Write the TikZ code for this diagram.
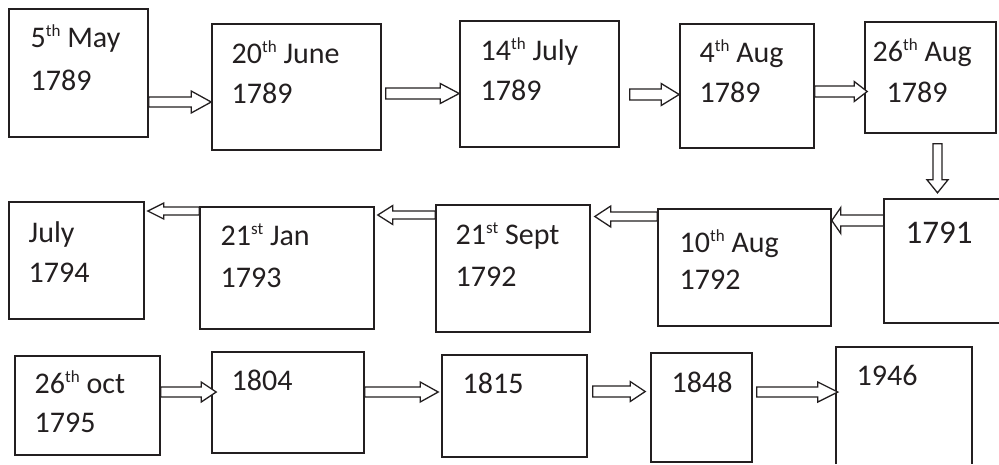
\documentclass[tikz,border=0pt]{standalone}
\usepackage{fontspec}
\setmainfont{Carlito}
\usetikzlibrary{calc}
\definecolor{ink}{HTML}{231F20}

% ordinal suffix (th, st) set small and raised
\newcommand\ord[1]{\raisebox{11pt}{\fontsize{17}{17}\selectfont #1}}

% hollow block arrow from coordinate #1 (tail) to #2 (tip);
% #3 shaft half width, #4 head half width, #5 head length (all in pt)
\newcommand\blockarrow[5]{%
  \path ($(#2)!#5pt!(#1)$) coordinate (hb);
  \draw[barrow] ($(#1)!#3pt!90:(#2)$) -- ($(hb)!#3pt!90:(#2)$)
    -- ($(hb)!#4pt!90:(#2)$) -- (#2) -- ($(hb)!#4pt!-90:(#2)$)
    -- ($(hb)!#3pt!-90:(#2)$) -- ($(#1)!#3pt!-90:(#2)$) -- cycle;}

\begin{document}
\begin{tikzpicture}[x=1pt,y=-1pt,
  box/.style={draw=ink, line width=1.6pt, rectangle, inner sep=0pt},
  openbox/.style={rectangle, inner sep=0pt},
  side/.style={draw=ink, line width=1.6pt},
  lbl/.style={anchor=base west, inner sep=0pt, text=ink,
              font=\fontsize{30}{36}\selectfont},
  biglbl/.style={lbl, font=\fontsize{33}{40}\selectfont},
  barrow/.style={draw=ink, fill=white, line width=1.3pt, line join=miter}]

\useasboundingbox (0,0) rectangle (999,464);

% ---- first row ----
\node[box, minimum width=139pt, minimum height=128pt] (A) at (78.5,73) {};
\node[box, minimum width=169pt, minimum height=126pt] (B) at (296.5,87) {};
\node[box, minimum width=159pt, minimum height=126pt] (C) at (539.5,84) {};
\node[box, minimum width=134pt, minimum height=124pt] (D) at (747,86) {};
\node[box, minimum width=131pt, minimum height=111pt] (E) at (930.5,77.5) {};

% ---- second row ----
\node[openbox, minimum width=115pt, minimum height=124pt] (F) at (941.5,261) {};
\draw[side] (F.north east) -- (F.north west) -- (F.south west) -- (F.south east);
\node[box, minimum width=173pt, minimum height=117pt] (G) at (744.5,267.5) {};
\node[box, minimum width=154pt, minimum height=127pt] (H) at (513,268.5) {};
\node[box, minimum width=174pt, minimum height=122pt] (I) at (287,268) {};
\node[box, minimum width=135pt, minimum height=117pt] (J) at (76.5,260.5) {};

% ---- third row ----
\node[box, minimum width=145pt, minimum height=99pt]  (K) at (87.5,405.5) {};
\node[box, minimum width=152pt, minimum height=101pt] (L) at (288,402.5) {};
\node[box, minimum width=145pt, minimum height=102pt] (M) at (514.5,406) {};
\node[box, minimum width=101pt, minimum height=109pt] (N) at (701.5,407.5) {};
\node[openbox, minimum width=136pt, minimum height=117pt] (O) at (904,405.5) {};
\draw[side] (O.south west) -- (O.north west) -- (O.north east) -- (O.south east);

% ---- labels ----
\node[lbl] (A1) at (30.5,47)  {5\ord{th} May};
\node[lbl] (A2) at (30.5,90)  {1789};
\node[lbl] (B1) at (231.5,63) {20\ord{th} June};
\node[lbl] (B2) at (231.5,103) {1789};
\node[lbl] (C1) at (480.5,60) {14\ord{th} July};
\node[lbl] (C2) at (480.5,100) {1789};
\node[lbl] (D1) at (699.5,62) {4\ord{th} Aug};
\node[lbl] (D2) at (699.5,102) {1789};
\node[lbl] (E1) at (872.5,61) {26\ord{th} Aug};
\node[lbl] (E2) at (886.5,102) {1789};

\node[biglbl] (F1) at (905.5,243) {1791};
\node[lbl] (G1) at (679.5,252) {10\ord{th} Aug};
\node[lbl] (G2) at (679.5,289) {1792};
\node[lbl] (H1) at (455.5,244) {21\ord{st} Sept};
\node[lbl] (H2) at (455.5,286) {1792};
\node[lbl] (I1) at (220.5,245) {21\ord{st} Jan};
\node[lbl] (I2) at (220.5,287) {1793};
\node[lbl] (J1) at (28.5,242) {July};
\node[lbl] (J2) at (28.5,282) {1794};

\node[lbl] (K1) at (34.5,393) {26\ord{th} oct};
\node[lbl] (K2) at (34.5,432) {1795};
\node[lbl] (L1) at (231.5,390) {1804};
\node[lbl] (M1) at (462.5,393) {1815};
\node[lbl] (N1) at (671.5,392) {1848};
\node[lbl] (O1) at (856.5,385) {1946};

% ---- connector end points ----
\coordinate (a1t) at (A.east |- 0,102);
\coordinate (a1h) at (B.west |- 0,102);
\coordinate (a2t) at ($(B.east |- 0,93.5)+(4,0)$);
\coordinate (a2h) at (C.west |- 0,93.5);
\coordinate (a3t) at ($(C.east |- 0,94.5)+(10,0)$);
\coordinate (a3h) at (D.west |- 0,94.5);
\coordinate (a4t) at (D.east |- 0,91.5);
\coordinate (a4h) at ($(E.west |- 0,91.5)+(3,0)$);
\coordinate (a5t) at ($(E.south)+(7,10)$);
\coordinate (a5h) at ($(F.north)+(-4,-6)$);
\coordinate (a6t) at (F.west |- 0,220.5);
\coordinate (a6h) at (G.east |- 0,220.5);
\coordinate (a7t) at (G.west |- 0,216.5);
\coordinate (a7h) at ($(H.east |- 0,216.5)+(4,0)$);
\coordinate (a8t) at (H.west |- 0,215);
\coordinate (a8h) at ($(I.east |- 0,215)+(3,0)$);
\coordinate (a9t) at (I.west |- 0,211);
\coordinate (a9h) at ($(J.east |- 0,211)+(3,0)$);
\coordinate (b1t) at (K.east |- 0,392);
\coordinate (b1h) at ($(L.west |- 0,392)+(5,0)$);
\coordinate (b2t) at (L.east |- 0,392);
\coordinate (b2h) at ($(M.west |- 0,392)+(-3,0)$);
\coordinate (b3t) at ($(M.east |- 0,391.5)+(5,0)$);
\coordinate (b3h) at ($(N.west |- 0,391.5)+(-5,0)$);
\coordinate (b4t) at ($(N.east |- 0,392)+(4,0)$);
\coordinate (b4h) at ($(O.west |- 0,392)+(2,0)$);

% ---- block arrows ----
\blockarrow{a1t}{a1h}{5}{11}{20}
\blockarrow{a2t}{a2h}{5.5}{10}{19}
\blockarrow{a3t}{a3h}{5.5}{11}{18}
\blockarrow{a4t}{a4h}{5.5}{10}{13}
\blockarrow{a5t}{a5h}{4.5}{10.5}{13}
\blockarrow{a6t}{a6h}{5.5}{13}{9}
\blockarrow{a7t}{a7h}{4.5}{10.5}{16}
\blockarrow{a8t}{a8h}{4}{9.5}{15}
\blockarrow{a9t}{a9h}{4}{8}{16}
\blockarrow{b1t}{b1h}{5}{10}{15}
\blockarrow{b2t}{b2h}{5}{10}{18}
\blockarrow{b3t}{b3h}{5.5}{10}{15}
\blockarrow{b4t}{b4h}{5}{10}{20}

\end{tikzpicture}
\end{document}
